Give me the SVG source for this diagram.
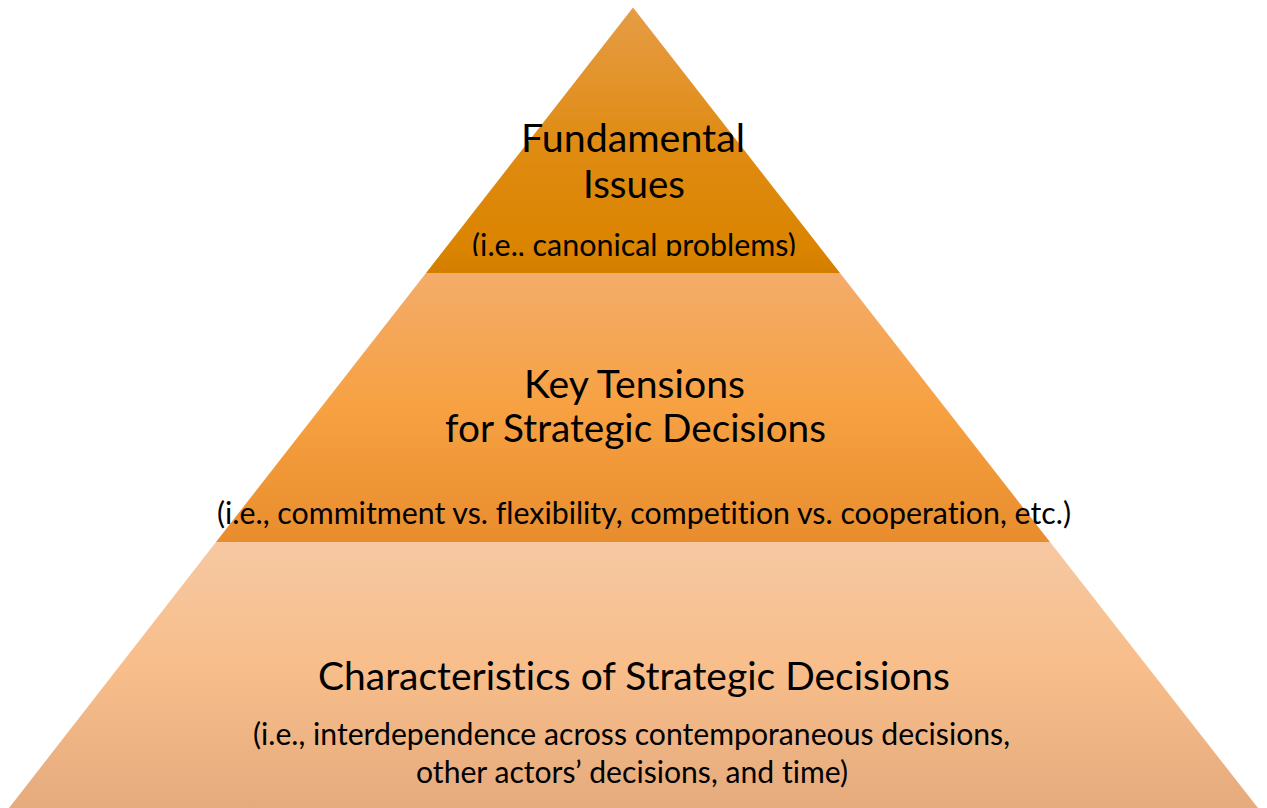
<svg xmlns="http://www.w3.org/2000/svg" width="1267" height="808" viewBox="0 0 1267 808">
  <defs>
    <linearGradient id="gradTop" x1="0" y1="0" x2="0" y2="1">
      <stop offset="0" stop-color="#E59C45"/>
      <stop offset="0.5" stop-color="#E08C14"/>
      <stop offset="0.9" stop-color="#DB8400"/>
      <stop offset="1" stop-color="#D47E00"/>
    </linearGradient>
    <linearGradient id="gradMid" x1="0" y1="0" x2="0" y2="1">
      <stop offset="0" stop-color="#F3AC6A"/>
      <stop offset="0.5" stop-color="#F7A142"/>
      <stop offset="1" stop-color="#E88D2D"/>
    </linearGradient>
    <linearGradient id="gradBase" x1="0" y1="0" x2="0" y2="1">
      <stop offset="0" stop-color="#F6C8A2"/>
      <stop offset="0.45" stop-color="#F8BE8B"/>
      <stop offset="1" stop-color="#E6AB7D"/>
    </linearGradient>
    <clipPath id="topTierClip">
      <rect x="0" y="0" width="1267" height="256"/>
    </clipPath>
  </defs>
  <style>
    .title { font-family: Lato, "Liberation Sans", sans-serif; font-size: 39px; fill: #000; font-variant-ligatures: none; }
    .sub { font-family: Lato, "Liberation Sans", sans-serif; font-size: 30.5px; fill: #000; font-variant-ligatures: none; }
  </style>

  <rect x="0" y="0" width="1267" height="808" fill="#FFFFFF"/>

  <!-- Top tier -->
  <g id="tier-fundamental">
    <polygon points="633,7.5 426,273 840,273" fill="url(#gradTop)"/>
    <text class="title" x="633" y="152" text-anchor="middle" textLength="224" lengthAdjust="spacingAndGlyphs">Fundamental</text>
    <text class="title" x="634" y="198" text-anchor="middle" textLength="102" lengthAdjust="spacingAndGlyphs">Issues</text>
    <text class="sub" x="634" y="255.5" text-anchor="middle" textLength="324" lengthAdjust="spacingAndGlyphs" clip-path="url(#topTierClip)">(i.e., canonical problems)</text>
  </g>

  <!-- Middle tier -->
  <g id="tier-tensions">
    <polygon points="426,273 840,273 1050,542 216,542" fill="url(#gradMid)"/>
    <text class="title" x="634.5" y="397.5" text-anchor="middle" textLength="221" lengthAdjust="spacingAndGlyphs">Key Tensions</text>
    <text class="title" x="635.5" y="442" text-anchor="middle" textLength="381" lengthAdjust="spacingAndGlyphs">for Strategic Decisions</text>
    <text class="sub" x="644" y="523.5" text-anchor="middle" textLength="854" lengthAdjust="spacingAndGlyphs">(i.e., commitment vs. flexibility, competition vs. cooperation, etc.)</text>
  </g>

  <!-- Base tier -->
  <g id="tier-characteristics">
    <polygon points="216,542 1050,542 1258,808 9,808" fill="url(#gradBase)"/>
    <text class="title" x="634" y="689.5" text-anchor="middle" textLength="632" lengthAdjust="spacingAndGlyphs">Characteristics of Strategic Decisions</text>
    <text class="sub" x="631.5" y="745" text-anchor="middle" textLength="757" lengthAdjust="spacingAndGlyphs">(i.e., interdependence across contemporaneous decisions,</text>
    <text class="sub" x="632" y="783" text-anchor="middle" textLength="432" lengthAdjust="spacingAndGlyphs">other actors’ decisions, and time)</text>
  </g>

  <g id="connectors"/>
</svg>
